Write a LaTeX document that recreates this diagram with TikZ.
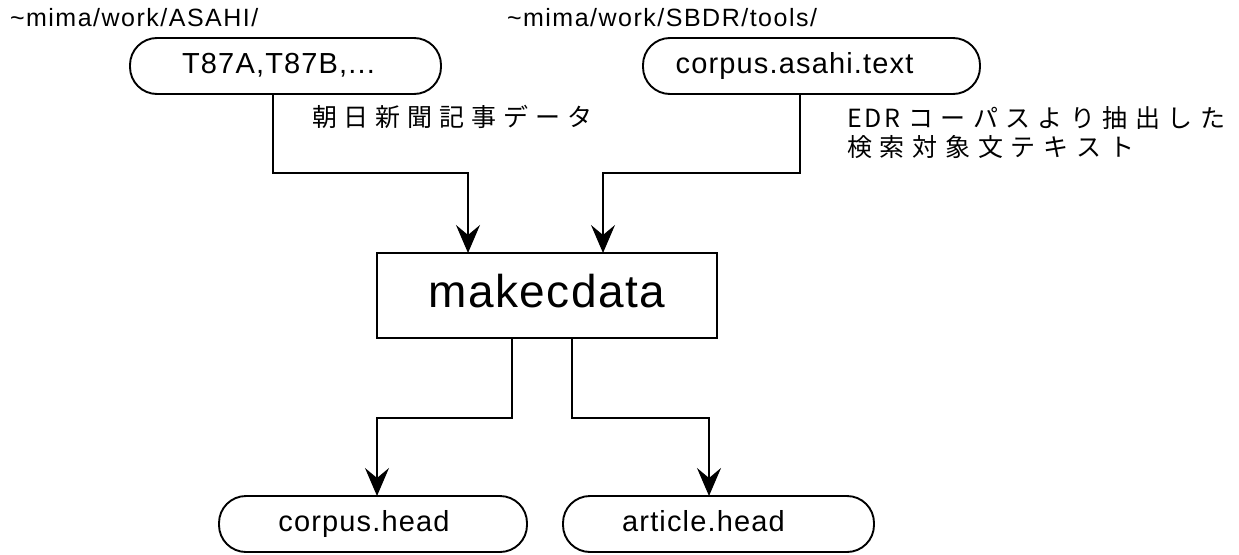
\documentclass[tikz,border=0pt]{standalone}
\usepackage{fontspec}
\setmainfont{Liberation Sans}
\newfontfamily\dirfont{Liberation Sans}[LetterSpace=6]
\newfontfamily\filefont{Liberation Sans}[LetterSpace=4]
\newfontfamily\progfont{Liberation Sans}[LetterSpace=3]
\newfontfamily\jpfont{Noto Sans CJK JP}
\usetikzlibrary{arrows.meta}

\begin{document}
\begin{tikzpicture}[x=1pt,y=-1pt,
  every node/.style={inner sep=0pt, outer sep=0pt},
  file/.style={draw, line width=1.9pt, rounded corners=27pt, minimum height=56pt,
               text height=21pt, text depth=6pt,
               font=\filefont\fontsize{29}{31}\selectfont},
  proc/.style={draw, line width=1.9pt, minimum width=340pt, minimum height=85pt,
               text height=33pt, text depth=9pt,
               font=\progfont\fontsize{46}{50}\selectfont},
  dirlabel/.style={anchor=west, font=\dirfont\fontsize{25}{27}\selectfont},
  note/.style={anchor=west, align=left, font=\jpfont\fontsize{25}{29}\selectfont},
  flow/.style={line width=1.6pt, -{Stealth[length=28pt,width=24pt,inset=10pt]}}
]
\useasboundingbox (0,0) rectangle (1239,554);

% input files and their directories
\node[dirlabel] (p1) at (10,18) {\textasciitilde mima/work/ASAHI/};
\node[file, minimum width=311pt] (t87) at (285.5,66) {\hspace*{-14pt}T87A,T87B,...};
\node[dirlabel] (p2) at (507,18) {\textasciitilde mima/work/SBDR/tools/};
\node[file, minimum width=337pt] (cat) at (811.5,66) {\hspace*{-34pt}corpus.asahi.text};

% notes beside the input lines
\node[note] (n1) at (312,117) {\makebox[280pt][s]{朝\hfill 日\hfill 新\hfill 聞\hfill 記\hfill 事\hfill デ\hfill ー\hfill タ}};
\node[note] (n2) at (847,132.5) {\makebox[378pt][s]{E\kern3pt D\kern3pt R\hfill コ\hfill ー\hfill パ\hfill ス\hfill よ\hfill り\hfill 抽\hfill 出\hfill し\hfill た}\\
  \makebox[287pt][s]{検\hfill 索\hfill 対\hfill 象\hfill 文\hfill テ\hfill キ\hfill ス\hfill ト}};

% the program
\node[proc] (mk) at (547,295.5) {makecdata};

% output files
\node[file, minimum width=308pt] (ch) at (373,524) {\hspace*{-18pt}corpus.head};
\node[file, minimum width=311pt] (ah) at (718.5,524) {\hspace*{-30pt}article.head};

% data flow
\draw[flow] ([xshift=-12.5pt]t87.south) -- ++(0,79) -| ([xshift=-79pt]mk.north);
\draw[flow] ([xshift=-11.5pt]cat.south) -- ++(0,79) -| ([xshift=56pt]mk.north);
\draw[flow] ([xshift=-35pt]mk.south) -- ++(0,80) -| ([xshift=4pt]ch.north);
\draw[flow] ([xshift=25pt]mk.south) -- ++(0,80) -| ([xshift=-9.5pt]ah.north);
\end{tikzpicture}
\end{document}
